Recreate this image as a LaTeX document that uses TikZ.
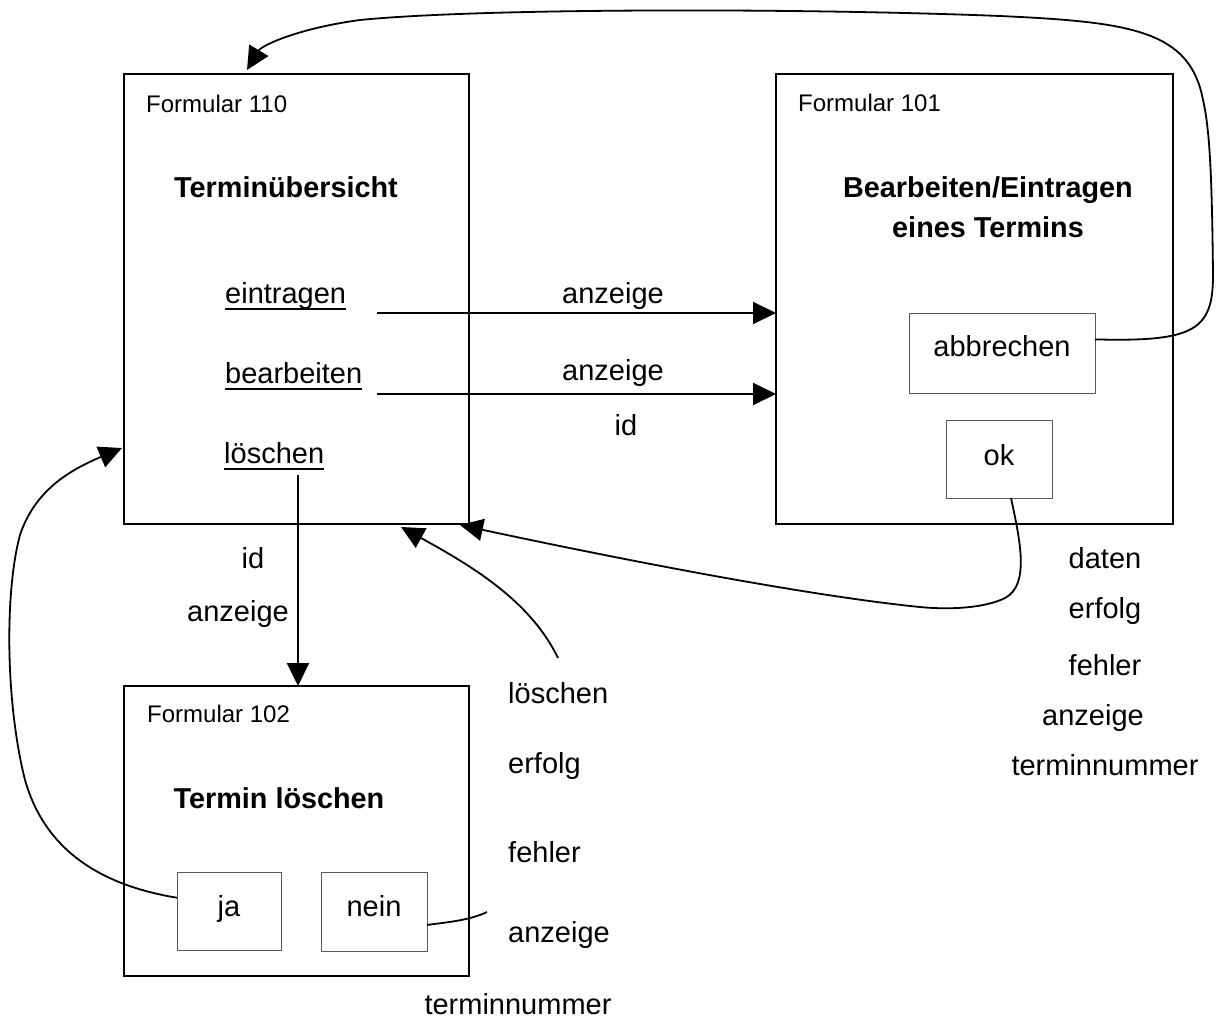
\documentclass[tikz,border=0pt]{standalone}
\usepackage{fontspec}
\setmainfont{Liberation Sans}
\usetikzlibrary{arrows.meta,calc}

% underlined link text in the form
\newcommand\linktext[1]{\setbox0\hbox{#1}\rlap{\rule[-7pt]{\wd0}{2pt}}\box0}

\begin{document}
\begin{tikzpicture}[x=1pt,y=-1pt,
  form/.style={draw,line width=2pt,inner sep=0,outer sep=0,rectangle},
  button/.style={draw=black!65,line width=1pt,inner sep=0,outer sep=0,rectangle},
  txt/.style={inner sep=0,anchor=base,font=\fontsize{29}{34}\selectfont},
  txtl/.style={txt,anchor=base west},
  title/.style={txt,font=\fontsize{28.8}{34}\selectfont\bfseries},
  formno/.style={inner sep=0,anchor=base west,font=\fontsize{24}{28}\selectfont},
  conn/.style={line width=2pt},
  curve/.style={line width=1.8pt},
  arr/.style={-{Triangle[length=23pt,width=22pt]}},
]
\useasboundingbox (0,0) rectangle (1216,1026);

% forms
\node[form,minimum width=345,minimum height=450] (f110) at (296.5,299) {};
\node[form,minimum width=397,minimum height=450] (f101) at (974.5,299) {};
\node[form,minimum width=345,minimum height=290] (f102) at (296.5,831) {};

% buttons
\node[button,minimum width=186,minimum height=80] (abb) at (1002,353) {};
\node[button,minimum width=106,minimum height=78] (okb) at (999,459) {};
\node[button,minimum width=104,minimum height=78] (jab) at (229,911) {};
\node[button,minimum width=106,minimum height=79] (neinb) at (374,911.5) {};

% form numbers and titles
\node[formno] (n110) at (146,112) {Formular 110};
\node[formno] (n101) at (798,111) {Formular 101};
\node[formno] (n102) at (147,722) {Formular 102};
\node[title] (t110) at (286,197) {Terminübersicht};
\node[title] (t101a) at (988,197) {Bearbeiten/Eintragen};
\node[title] (t101b) at (988,237) {eines Termins};
\node[title] (t102) at (279,808) {Termin löschen};

% button captions
\node[txt] (abbt) at (1002,356) {abbrechen};
\node[txt] (okt) at (999,465) {ok};
\node[txt] (jat) at (229,916) {ja};
\node[txt] (neint) at (374,916) {nein};

% links in the overview form
\node[txtl] (lein) at (225,303) {\linktext{eintragen}};
\node[txtl] (lbea) at (225,383) {\linktext{bearbeiten}};
\node[txtl] (llos) at (224,463) {\linktext{löschen}};

% parameter labels
\node[txt] (p1) at (613,303) {anzeige};
\node[txt] (p2) at (613,380) {anzeige};
\node[txt] (p3) at (626,435) {id};
\node[txt] (p4) at (253,568) {id};
\node[txt] (p5) at (238,621) {anzeige};

\node[txtl] (m1) at (508,703) {löschen};
\node[txtl] (m2) at (508,773) {erfolg};
\node[txtl] (m3) at (508,862) {fehler};
\node[txtl] (m4) at (508,942) {anzeige};
\node[txt]  (m5) at (518,1014) {terminnummer};

\node[txt] (r1) at (1105,568) {daten};
\node[txt] (r2) at (1105,618) {erfolg};
\node[txt] (r3) at (1105,675) {fehler};
\node[txt] (r4) at (1093,725) {anzeige};
\node[txt] (r5) at (1105,775) {terminnummer};

% straight transitions
\coordinate (se) at (377,313);
\coordinate (sb) at (377,394);
\coordinate (sl) at (298,475);
\draw[conn,arr] (se) -- (se -| f101.west);
\draw[conn,arr] (sb) -- (sb -| f101.west);
\draw[conn,arr] (sl) -- (sl |- f102.north);

% abbrechen back to the overview
\coordinate (abbout) at ($(abb.north east)!0.33!(abb.south east)$);
\coordinate (tip110) at (247,70);
\draw[curve,arr] (abbout)
  .. controls (1195,342) and (1213,330) .. (1213,275)
  .. controls (1212,180) and (1210,130) .. (1203,100)
  .. controls (1190,30) and (1130,22) .. (1000,16)
  .. controls (800,8) and (480,8) .. (360,20)
  .. controls (300,28) and (262,45) .. (tip110);

% ok back to the overview
\coordinate (okout) at (1011,498);
\coordinate (tipok) at (460,525);
\draw[curve,arr] (okout)
  .. controls (1020,540) and (1030,585) .. (1005,598)
  .. controls (985,608) and (950,610) .. (920,607)
  .. controls (800,595) and (600,555) .. (tipok);

% result of deleting back to the overview
\coordinate (delin) at (558,658);
\coordinate (tipdel) at (401,527);
\draw[curve,arr] (delin) .. controls (530,600) and (470,565) .. (tipdel);

% ja back to the overview
\coordinate (jaout) at ($(jab.north west)!0.33!(jab.south west)$);
\coordinate (tipja) at (122,448);
\draw[curve,arr] (jaout)
  .. controls (100,885) and (45,850) .. (25,780)
  .. controls (5,700) and (5,590) .. (20,535)
  .. controls (35,490) and (70,470) .. (tipja);

% nein
\coordinate (neinout) at ($(neinb.north east)!0.67!(neinb.south east)$);
\coordinate (neinend) at (487,912);
\draw[curve] (neinout) .. controls (450,922) and (470,920) .. (neinend);
\end{tikzpicture}
\end{document}
